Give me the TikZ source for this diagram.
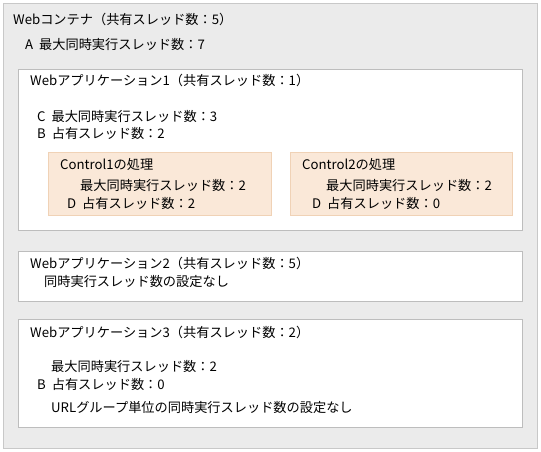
\documentclass[tikz,border=0pt]{standalone}
\usepackage{fontspec}
\setmainfont{Noto Sans CJK JP}
\usepackage{xcolor}
\usepackage{tikz}
\definecolor{contfill}{HTML}{EBEBEB}
\definecolor{contedge}{HTML}{C8C8C8}
\definecolor{appedge}{HTML}{BDBDBD}
\definecolor{ctrlfill}{HTML}{FAE8D8}
\definecolor{ctrledge}{HTML}{F0D2B6}

\begin{document}
\begin{tikzpicture}[x=1pt, y=-1pt,
  every node/.style={anchor=west, inner sep=0pt, font=\fontsize{13.2}{15}\selectfont},
  contbox/.style={fill=contfill, draw=contedge},
  appbox/.style={fill=white, draw=appedge},
  ctrlbox/.style={fill=ctrlfill, draw=ctrledge},]
\useasboundingbox (0,0) rectangle (541,451);
% Web container
\draw[contbox] (3,3) rectangle (537,448);
\node (cont) at (13,19) {Webコンテナ（共有スレッド数：5）};
\node (contA) at (25,44) {A\hspace{3pt} 最大同時実行スレッド数：7};

% Web application 1
\draw[appbox] (18,69) rectangle (522,230);
\node (appone) at (30,80) {Webアプリケーション1（共有スレッド数：1）};
\node (apponeC) at (37,116) {C\hspace{3pt} 最大同時実行スレッド数：3};
\node (apponeB) at (37,133) {B\hspace{3pt} 占有スレッド数：2};

% Control boxes
\draw[ctrlbox] (48,152) rectangle (271,215);
\node (ctrlone) at (60,164) {Control1の処理};
\node (ctrlonemax) at (80,185) {最大同時実行スレッド数：2};
\node (ctrloneD) at (67,203) {D\hspace{3pt} 占有スレッド数：2};
\draw[ctrlbox] (290,152) rectangle (512,215);
\node (ctrltwo) at (302,164) {Control2の処理};
\node (ctrltwomax) at (326,185) {最大同時実行スレッド数：2};
\node (ctrltwoD) at (312,203) {D\hspace{3pt} 占有スレッド数：0};

% Web application 2
\draw[appbox] (18,251) rectangle (522,301);
\node (apptwo) at (30,263) {Webアプリケーション2（共有スレッド数：5）};
\node (apptwonone) at (44,282) {同時実行スレッド数の設定なし};

% Web application 3
\draw[appbox] (18,319) rectangle (522,427);
\node (appthree) at (30,332) {Webアプリケーション3（共有スレッド数：2）};
\node (appthreemax) at (51,366) {最大同時実行スレッド数：2};
\node (appthreeB) at (37,384) {B\hspace{3pt} 占有スレッド数：0};
\node (appthreenone) at (51,408) {URLグループ単位の同時実行スレッド数の設定なし};
\end{tikzpicture}
\end{document}
